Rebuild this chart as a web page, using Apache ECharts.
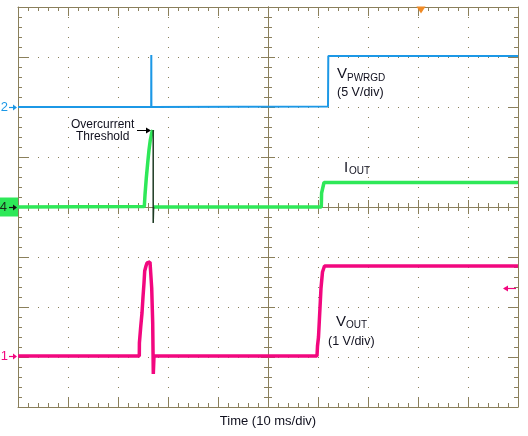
<!DOCTYPE html>
<html>
<head>
<meta charset="utf-8">
<script src="https://cdn.jsdelivr.net/npm/echarts@6/dist/echarts.min.js"></script>
<style>
  html, body { margin: 0; padding: 0; background: #fff; }
  #chart { width: 528px; height: 436px; }
</style>
</head>
<body>
<div id="chart"></div>
<script>
// screen is 10 x 8 divisions, time in ms from screen center, level in divisions from center
var timeRange = [-50, 50]
var divRange = [-4, 4]

// [time ms, divisions]
var vpwrgd = [
  [-50, 2.0], [-23.36, 2.0], [-23.34, 3.04], [-23.32, 2.0],
  [12.0, 2.01], [12.06, 3.02], [50, 3.02]
]
var iout = [
  [-50, 0], [-24.74, 0.01], [-24.6, 0.24], [-24.34, 0.58], [-24.06, 0.88],
  [-23.8, 1.14], [-23.54, 1.34], [-23.26, 1.48], [-23.06, 1.54],
  [-23.0, null],
  [-22.9, 0], [10.66, 0], [10.72, 0.28], [11.2, 0.49], [50, 0.49]
]
var ioutEdge = [[-22.96, 1.54], [-22.96, -0.32], [-22.88, 0]]
var vout = [
  [-50, -2.98], [-25.74, -2.98], [-25.72, -2.72], [-25.46, -2.4], [-25.2, -2.12],
  [-25.0, -1.8], [-24.8, -1.52], [-24.66, -1.28], [-24.4, -1.18], [-24.2, -1.12],
  [-23.6, -1.1], [-23.4, -1.14], [-23.26, -1.62], [-23.06, -2.32], [-22.94, -3.34],
  [-22.8, -2.98], [9.8, -2.98], [9.9, -2.78], [10.1, -2.6], [10.6, -1.62],
  [10.9, -1.3], [11.3, -1.18], [50, -1.18]
]
// channel ground markers on the left edge
var chanNames = ['2', '4', '1']
var chanLevels = [2.0, 0, -2.98]
var ch1RightMark = -1.62
var triggerTime = 30.6

var gridColor = '#8a7f5b'
var textColor = '#10101e'
var blue = '#1c98e6'
var green = '#2ee858'
var magenta = '#f2077f'
var font = '"Liberation Sans", Arial, sans-serif'

function frameAxis(dim, position, onZero, inside, major, minor, split) {
  var r = dim === 'x' ? timeRange : divRange
  return {
    type: 'value',
    position: position,
    min: r[0],
    max: r[1],
    interval: dim === 'x' ? 10 : 1,
    axisLabel: { show: false },
    axisLine: {
      show: true,
      onZero: onZero,
      onZeroAxisIndex: onZero ? 0 : undefined,
      lineStyle: { color: gridColor, width: 1 }
    },
    axisTick: { show: true, inside: inside, length: major, lineStyle: { color: gridColor } },
    minorTick: { show: true, splitNumber: 5, length: minor, lineStyle: { color: gridColor } },
    splitLine: {
      show: split,
      lineStyle: { color: gridColor, type: [1, 9], width: 1 }
    },
    minorSplitLine: { show: false }
  }
}

var xAxes = [
  frameAxis('x', 'bottom', false, true, 10, 4, true),
  frameAxis('x', 'top', false, true, 9, 4, false),
  frameAxis('x', 'bottom', true, true, 7, 4, false),
  frameAxis('x', 'bottom', true, false, 7, 4, false)
]
xAxes[0].name = 'Time (10 ms/div)'
xAxes[0].nameLocation = 'middle'
xAxes[0].nameGap = 8
xAxes[0].nameTextStyle = { fontFamily: font, fontSize: 13, color: textColor }

var yAxes = [
  frameAxis('y', 'left', false, true, 10, 4, true),
  frameAxis('y', 'right', false, true, 10, 4, false),
  frameAxis('y', 'left', true, true, 7, 4, false),
  frameAxis('y', 'left', true, false, 7, 4, false)
]

// channel number left of the frame, the arrow is added as graphic below
function chanMark(i, color, box) {
  var label = {
    show: true,
    position: 'left',
    distance: box ? 0 : 10,
    formatter: chanNames[i],
    fontFamily: font,
    fontSize: 13,
    color: box ? '#1a2a1a' : color
  }
  if (box) {
    label.backgroundColor = green
    label.padding = [3, 11, 3, 3]
  }
  return { coord: [timeRange[0], chanLevels[i]], symbolSize: 0, label: label }
}

function txt(s, x, y, size) {
  return { type: 'text', x: x, y: y, style: { text: s, font: size + 'px ' + font, fill: textColor, verticalAlign: 'middle' } }
}

var chart = echarts.init(document.getElementById('chart'))
chart.setOption({
  animation: false,
  backgroundColor: '#fff',
  grid: { left: 18, top: 7, width: 500, height: 400, outerBoundsMode: 'none', containLabel: false },
  xAxis: xAxes,
  yAxis: yAxes,
  series: [
    {
      name: 'VPWRGD',
      type: 'line',
      data: vpwrgd,
      showSymbol: false,
      lineStyle: { color: blue, width: 2 },
      markPoint: {
        silent: true,
        data: [
          chanMark(0, blue, false),
          {
            coord: [triggerTime, divRange[1]],
            symbol: 'triangle',
            symbolRotate: 180,
            symbolSize: [9, 7],
            symbolOffset: [0, 3],
            itemStyle: { color: '#f08a24' },
            label: { show: false }
          }
        ]
      }
    },
    {
      name: 'IOUT',
      type: 'line',
      data: iout,
      showSymbol: false,
      lineStyle: { color: green, width: 3.5 },
      markPoint: { silent: true, data: [chanMark(1, green, true)] }
    },
    {
      name: 'IOUT edge',
      type: 'line',
      data: ioutEdge,
      showSymbol: false,
      lineStyle: { color: '#1c3a22', width: 1.5 }
    },
    {
      name: 'VOUT',
      type: 'line',
      data: vout,
      showSymbol: false,
      lineStyle: { color: magenta, width: 3.5 },
      markPoint: { silent: true, data: [chanMark(2, magenta, false)] }
    }
  ]
})

var notes = [
  txt('Overcurrent', 71, 125, 12),
  txt('Threshold', 76, 137, 12),
  { type: 'line', shape: { x1: 137, y1: 130.5, x2: 147, y2: 130.5 }, style: { stroke: '#000', lineWidth: 1 } },
  { type: 'polygon', shape: { points: [[146, 127.5], [151, 130.5], [146, 133.5]] }, style: { fill: '#000' } },
  txt('V', 337, 74, 15),
  txt('PWRGD', 347, 78.5, 10),
  txt('(5 V/div)', 337, 93, 12.5),
  txt('I', 344, 168, 15),
  txt('OUT', 349, 171, 10),
  txt('V', 336, 322, 15),
  txt('OUT', 346, 325.5, 10),
  txt('(1 V/div)', 328, 342, 12.5)
]

// small arrows pointing at the frame, placed from the axis scale
function arrow(tip, dir, color) {
  var x = tip[0], y = Math.round(tip[1]) + 0.5
  return [
    { type: 'line', z: 50, shape: { x1: x - dir * 8, y1: y, x2: x - dir * 3, y2: y }, style: { stroke: color, lineWidth: 1.2 } },
    { type: 'polygon', z: 50, shape: { points: [[x - dir * 4, y - 3], [x, y], [x - dir * 4, y + 3]] }, style: { fill: color } }
  ]
}
var chanColors = [blue, '#111', magenta]
chanLevels.forEach(function (lvl, i) {
  var p = chart.convertToPixel({ gridIndex: 0 }, [timeRange[0], lvl])
  notes = notes.concat(arrow([p[0] - 1, p[1]], 1, chanColors[i]))
})
var pr = chart.convertToPixel({ gridIndex: 0 }, [timeRange[1], ch1RightMark])
var rx = pr[0] - 2, ry = Math.round(pr[1]) + 0.5
notes.push(
  { type: 'line', z: 50, shape: { x1: rx - 12, y1: ry, x2: rx, y2: ry }, style: { stroke: magenta, lineWidth: 1.2 } },
  { type: 'polygon', z: 50, shape: { points: [[rx - 8, ry - 3], [rx - 13, ry], [rx - 8, ry + 3]] }, style: { fill: magenta } }
)
chart.setOption({ graphic: notes })
</script>
</body>
</html>
